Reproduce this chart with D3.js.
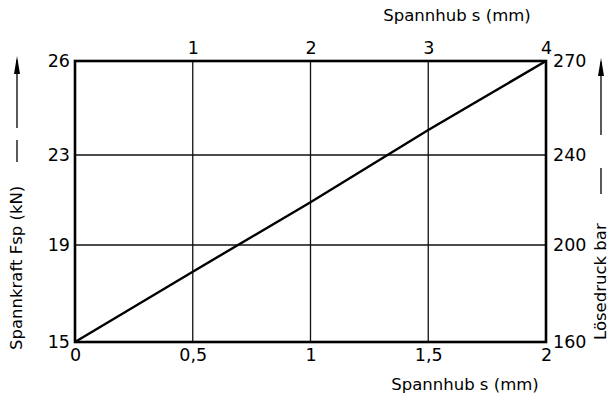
<!DOCTYPE html>
<html><head><meta charset="utf-8">
<script src="https://cdn.jsdelivr.net/npm/d3@7/dist/d3.min.js"></script>
<style>body{margin:0;background:#fff}svg{display:block}</style>
</head><body><svg id="c" width="610" height="401"></svg>
<script>
// Data
const strokeBottomTicks = [0, 0.5, 1, 1.5, 2];          // Spannhub s (mm), bottom
const strokeBottomLabels = ["0", "0,5", "1", "1,5", "2"];
const strokeTopTicks = [1, 2, 3, 4];                     // Spannhub s (mm), top
const strokeTopLabels = ["1", "2", "3", "4"];
const forceTicks = [15, 19, 23, 26];                     // Spannkraft Fsp (kN)
const pressureTicks = [160, 200, 240, 270];              // Lösedruck bar
const lineStroke = [0, 0.5, 1, 1.5, 2];
const lineForce = [15, 17.9, 20.9, 23.8, 26];

const svg = d3.select("#c");
const L = 75, R = 546, T = 61, B = 342;
const x = d3.scaleLinear().domain([0, 2]).range([L, R]);
const xTop = d3.scaleLinear().domain([0, 4]).range([L, R]);
const y = d3.scaleLinear().domain(forceTicks).range([B, 245, 155, T]);
const yR = d3.scaleLinear().domain(pressureTicks).range([B, 245, 155, T]);

const g = svg.append("g");
// gridlines
g.selectAll(".vg").data(strokeBottomTicks.slice(1, -1)).join("line")
  .attr("x1", d => x(d)).attr("x2", d => x(d)).attr("y1", T).attr("y2", B)
  .attr("stroke", "#111").attr("stroke-width", 1.3);
g.selectAll(".hg").data(forceTicks.slice(1, -1)).join("line")
  .attr("y1", d => y(d)).attr("y2", d => y(d)).attr("x1", L).attr("x2", R)
  .attr("stroke", "#111").attr("stroke-width", 1.3);
// frame
g.append("rect").attr("x", L).attr("y", T).attr("width", R - L).attr("height", B - T)
  .attr("fill", "none").attr("stroke", "#000").attr("stroke-width", 2.6);

// axes (labels only)
const font = "DejaVu Sans";
function styleAxis(sel) {
  sel.select(".domain").remove();
  sel.selectAll(".tick line").remove();
  sel.selectAll("text").attr("font-family", font).attr("font-size", 17.5).attr("fill", "#000");
}
svg.append("g").attr("transform", `translate(0,${B})`)
  .call(d3.axisBottom(x).tickValues(strokeBottomTicks).tickFormat((d, i) => strokeBottomLabels[i]).tickSize(0).tickPadding(7))
  .call(styleAxis);
svg.append("g").attr("transform", `translate(0,${T})`)
  .call(d3.axisTop(xTop).tickValues(strokeTopTicks).tickFormat((d, i) => strokeTopLabels[i]).tickSize(0).tickPadding(7))
  .call(styleAxis);
svg.append("g").attr("transform", `translate(${L},0)`)
  .call(d3.axisLeft(y).tickValues(forceTicks).tickSize(0).tickPadding(5))
  .call(styleAxis);
svg.append("g").attr("transform", `translate(${R},0)`)
  .call(d3.axisRight(yR).tickValues(pressureTicks).tickSize(0).tickPadding(7))
  .call(styleAxis);

// data line
const line = d3.line().x(d => x(d[0])).y(d => y(d[1]));
svg.append("path").datum(lineStroke.map((s, i) => [s, lineForce[i]]))
  .attr("d", line).attr("fill", "none").attr("stroke", "#000").attr("stroke-width", 2.4);

// titles
const tfont = "DejaVu Sans";
const ts = 16.5;
svg.append("text").attr("x", 457).attr("y", 21).attr("text-anchor", "middle")
  .attr("font-family", tfont).attr("font-size", ts).text("Spannhub s (mm)");
svg.append("text").attr("x", 465).attr("y", 390).attr("text-anchor", "middle")
  .attr("font-family", tfont).attr("font-size", ts).text("Spannhub s (mm)");
svg.append("text").attr("transform", "translate(22,350) rotate(-90)")
  .attr("font-family", tfont).attr("font-size", ts).text("Spannkraft Fsp (kN)");
svg.append("text").attr("transform", "translate(606,340) rotate(-90)")
  .attr("font-family", tfont).attr("font-size", ts).text("Lösedruck bar");

// arrows and dashes
function arrow(xp, y1, y2) {
  svg.append("line").attr("x1", xp).attr("x2", xp).attr("y1", y2).attr("y2", y1 + 4)
    .attr("stroke", "#000").attr("stroke-width", 1.3);
  svg.append("path").attr("d", `M${xp},${y1} L${xp + 3},${y1 + 18} L${xp - 3},${y1 + 18} Z`).attr("fill", "#000");
}
arrow(17, 56, 128);
svg.append("line").attr("x1", 17).attr("x2", 17).attr("y1", 140).attr("y2", 162).attr("stroke", "#000").attr("stroke-width", 1.3);
arrow(601, 58, 135);
svg.append("line").attr("x1", 601).attr("x2", 601).attr("y1", 168).attr("y2", 194).attr("stroke", "#000").attr("stroke-width", 1.3);
</script></body></html>
